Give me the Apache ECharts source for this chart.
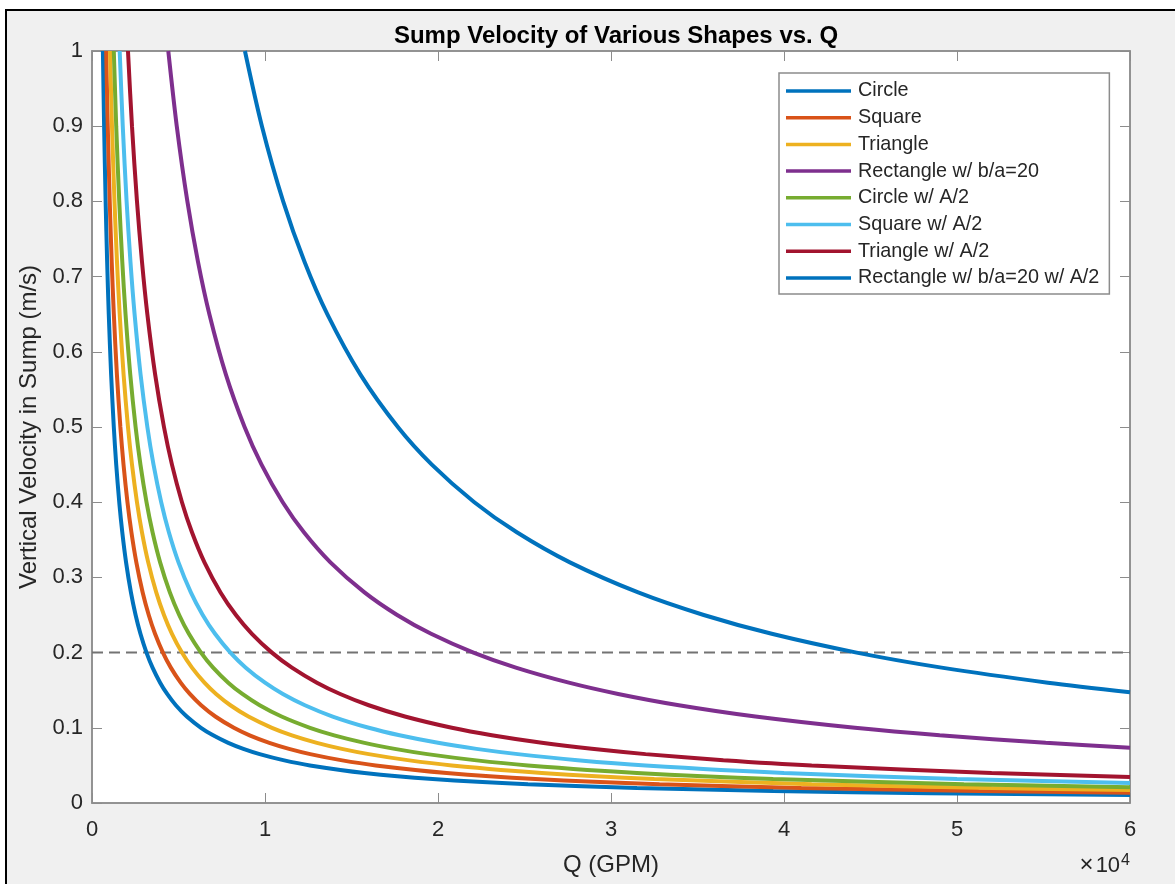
<!DOCTYPE html>
<html>
<head>
<meta charset="utf-8">
<title>Sump Velocity of Various Shapes vs. Q</title>
<script src="https://cdn.jsdelivr.net/npm/echarts@6.0.0/dist/echarts.min.js"></script>
<style>
  html, body { margin: 0; padding: 0; background: #fff; }
  .frame {
    position: absolute;
    left: 5px; top: 9px; right: 0; bottom: 0;
    border-left: 2px solid #000;
    border-top: 2px solid #000;
    background: #f0f0f0;
  }
  #chart { position: absolute; left: 0; top: 0; width: 1175px; height: 884px; }
</style>
</head>
<body>
<div class="frame"></div>
<div id="chart"></div>
<script>
// values: [Q (GPM), vertical velocity (m/s)]
const circle = [[630, 1], [700, 0.9], [788, 0.8], [875, 0.72], [969, 0.65], [1105, 0.57], [1260, 0.5], [1400, 0.45], [1575, 0.4], [1750, 0.36], [1969, 0.32], [2250, 0.28], [2520, 0.25], [2800, 0.225], [3150, 0.2], [3500, 0.18], [3938, 0.16], [4345, 0.145], [4846, 0.13], [5478, 0.115], [6300, 0.1], [7000, 0.09], [7875, 0.08], [8750, 0.072], [9692, 0.065], [11053, 0.057], [12600, 0.05], [15750, 0.04], [19688, 0.032], [25200, 0.025], [31500, 0.02], [39375, 0.016], [48462, 0.013], [60000, 0.0105]]
const square = [[820, 1], [911, 0.9], [1025, 0.8], [1139, 0.72], [1262, 0.65], [1439, 0.57], [1640, 0.5], [1822, 0.45], [2050, 0.4], [2278, 0.36], [2563, 0.32], [2929, 0.28], [3280, 0.25], [3644, 0.225], [4100, 0.2], [4556, 0.18], [5125, 0.16], [5655, 0.145], [6308, 0.13], [7130, 0.115], [8200, 0.1], [9111, 0.09], [10250, 0.08], [11389, 0.072], [12615, 0.065], [14386, 0.057], [16400, 0.05], [20500, 0.04], [25625, 0.032], [32800, 0.025], [41000, 0.02], [51250, 0.016], [60000, 0.0137]]
const triangle = [[1040, 1], [1156, 0.9], [1300, 0.8], [1444, 0.72], [1600, 0.65], [1825, 0.57], [2080, 0.5], [2311, 0.45], [2600, 0.4], [2889, 0.36], [3250, 0.32], [3714, 0.28], [4160, 0.25], [4622, 0.225], [5200, 0.2], [5778, 0.18], [6500, 0.16], [7172, 0.145], [8000, 0.13], [9043, 0.115], [10400, 0.1], [11556, 0.09], [13000, 0.08], [14444, 0.072], [16000, 0.065], [18246, 0.057], [20800, 0.05], [26000, 0.04], [32500, 0.032], [41600, 0.025], [52000, 0.02], [60000, 0.0173]]
const rectangle = [[4410, 1], [4900, 0.9], [5513, 0.8], [6125, 0.72], [6785, 0.65], [7737, 0.57], [8820, 0.5], [9800, 0.45], [11025, 0.4], [12250, 0.36], [13781, 0.32], [15750, 0.28], [17640, 0.25], [19600, 0.225], [22050, 0.2], [24500, 0.18], [27563, 0.16], [30414, 0.145], [33923, 0.13], [38348, 0.115], [44100, 0.1], [49000, 0.09], [55125, 0.08], [60000, 0.0735]]
const circleHalf = [[1260, 1], [1400, 0.9], [1575, 0.8], [1750, 0.72], [1938, 0.65], [2211, 0.57], [2520, 0.5], [2800, 0.45], [3150, 0.4], [3500, 0.36], [3938, 0.32], [4500, 0.28], [5040, 0.25], [5600, 0.225], [6300, 0.2], [7000, 0.18], [7875, 0.16], [8690, 0.145], [9692, 0.13], [10957, 0.115], [12600, 0.1], [14000, 0.09], [15750, 0.08], [17500, 0.072], [19385, 0.065], [22105, 0.057], [25200, 0.05], [31500, 0.04], [39375, 0.032], [50400, 0.025], [60000, 0.021]]
const squareHalf = [[1600, 1], [1778, 0.9], [2000, 0.8], [2222, 0.72], [2462, 0.65], [2807, 0.57], [3200, 0.5], [3556, 0.45], [4000, 0.4], [4444, 0.36], [5000, 0.32], [5714, 0.28], [6400, 0.25], [7111, 0.225], [8000, 0.2], [8889, 0.18], [10000, 0.16], [11034, 0.145], [12308, 0.13], [13913, 0.115], [16000, 0.1], [17778, 0.09], [20000, 0.08], [22222, 0.072], [24615, 0.065], [28070, 0.057], [32000, 0.05], [40000, 0.04], [50000, 0.032], [60000, 0.0267]]
const triangleHalf = [[2080, 1], [2311, 0.9], [2600, 0.8], [2889, 0.72], [3200, 0.65], [3649, 0.57], [4160, 0.5], [4622, 0.45], [5200, 0.4], [5778, 0.36], [6500, 0.32], [7429, 0.28], [8320, 0.25], [9244, 0.225], [10400, 0.2], [11556, 0.18], [13000, 0.16], [14345, 0.145], [16000, 0.13], [18087, 0.115], [20800, 0.1], [23111, 0.09], [26000, 0.08], [28889, 0.072], [32000, 0.065], [36491, 0.057], [41600, 0.05], [52000, 0.04], [60000, 0.0347]]
const rectangleHalf = [[8840, 1], [9822, 0.9], [11050, 0.8], [12278, 0.72], [13600, 0.65], [15509, 0.57], [17680, 0.5], [19644, 0.45], [22100, 0.4], [24556, 0.36], [27625, 0.32], [31571, 0.28], [35360, 0.25], [39289, 0.225], [44200, 0.2], [49111, 0.18], [55250, 0.16], [60000, 0.1473]]

const seriesNames = ['Circle', 'Square', 'Triangle', 'Rectangle w/ b/a=20', 'Circle w/ A/2', 'Square w/ A/2', 'Triangle w/ A/2', 'Rectangle w/ b/a=20 w/ A/2']
const seriesData = [circle, square, triangle, rectangle, circleHalf, squareHalf, triangleHalf, rectangleHalf]
const colors = ['#0072BD', '#D95319', '#EDB120', '#7E2F8E', '#77AC30', '#4DBEEE', '#A2142F', '#0072BD']
const limitVelocity = 0.2
const xTicks = [0, 10000, 20000, 30000, 40000, 50000, 60000]

const font = 'Liberation Sans, Arial, Helvetica, sans-serif'
const axisGray = '#8c8c8c'
const textGray = '#262626'

const chart = echarts.init(document.getElementById('chart'))

const tickStyle = { show: true, inside: true, length: 10, lineStyle: { color: axisGray, width: 1 } }
const lineStyleAxis = { show: true, onZero: false, lineStyle: { color: axisGray, width: 1.5 } }

const option = {
  animation: false,
  backgroundColor: 'transparent',
  color: colors,
  title: {
    text: 'Sump Velocity of Various Shapes vs. Q',
    left: 611,
    top: 19,
    textAlign: 'center',
    textStyle: { fontFamily: font, fontSize: 24, fontWeight: 'bold', color: '#000' }
  },
  grid: {
    left: 92,
    top: 51,
    right: 45,
    bottom: 81,
    show: true,
    backgroundColor: '#fff',
    borderColor: axisGray,
    borderWidth: 1.5
  },
  legend: {
    orient: 'vertical',
    left: 779,
    top: 73,
    padding: [8, 10, 6, 7],
    itemGap: 6.7,
    itemWidth: 65,
    itemHeight: 3.5,
    icon: 'rect',
    backgroundColor: '#fff',
    borderColor: axisGray,
    borderWidth: 1.5,
    borderRadius: 0,
    data: seriesNames,
    textStyle: { fontFamily: font, fontSize: 19.8, color: textGray, padding: [0, 0, 0, 2] }
  },
  xAxis: [
    {
      type: 'value',
      position: 'bottom',
      min: 0,
      max: 60000,
      interval: 10000,
      name: 'Q (GPM)',
      nameLocation: 'middle',
      nameGap: 50,
      nameTextStyle: { fontFamily: font, fontSize: 24, color: textGray },
      axisLine: lineStyleAxis,
      axisTick: tickStyle,
      splitLine: { show: false },
      axisLabel: {
        margin: 16,
        fontFamily: font,
        fontSize: 22,
        color: textGray,
        formatter: v => String(v / 10000)
      }
    },
    {
      type: 'value',
      position: 'top',
      min: 0,
      max: 60000,
      interval: 10000,
      axisLine: lineStyleAxis,
      axisTick: tickStyle,
      splitLine: { show: false },
      axisLabel: { show: false }
    }
  ],
  yAxis: [
    {
      type: 'value',
      position: 'left',
      min: 0,
      max: 1,
      interval: 0.1,
      name: 'Vertical Velocity in Sump (m/s)',
      nameLocation: 'middle',
      nameGap: 44,
      nameTextStyle: { fontFamily: font, fontSize: 24, color: textGray },
      axisLine: lineStyleAxis,
      axisTick: tickStyle,
      splitLine: { show: false },
      axisLabel: {
        margin: 9,
        fontFamily: font,
        fontSize: 22,
        color: textGray,
        formatter: v => String(Math.round(v * 10) / 10)
      }
    },
    {
      type: 'value',
      position: 'right',
      min: 0,
      max: 1,
      interval: 0.1,
      axisLine: lineStyleAxis,
      axisTick: tickStyle,
      splitLine: { show: false },
      axisLabel: { show: false }
    }
  ],
  graphic: [
    {
      type: 'text',
      right: 45,
      top: 853,
      style: {
        text: '{x|×}{n|10}{e|4}',
        fill: textGray,
        rich: {
          x: { fontFamily: font, fontSize: 24, fill: textGray, verticalAlign: 'bottom', lineHeight: 24, padding: [0, 2, 0, 0] },
          n: { fontFamily: font, fontSize: 22, fill: textGray, verticalAlign: 'bottom', lineHeight: 24 },
          e: { fontFamily: font, fontSize: 16, fill: textGray, verticalAlign: 'top', lineHeight: 24, padding: [0, 0, 8, 1] }
        }
      }
    }
  ],
  series: seriesData.map((data, i) => ({
    name: seriesNames[i],
    type: 'line',
    data: data,
    smooth: 0.3,
    showSymbol: false,
    clip: true,
    lineStyle: { width: 4, color: colors[i] },
    itemStyle: { color: colors[i] }
  })).concat([
    {
      name: 'limit',
      type: 'line',
      data: [[xTicks[0], limitVelocity], [xTicks[xTicks.length - 1], limitVelocity]],
      showSymbol: false,
      silent: true,
      lineStyle: { width: 2, color: '#737373', type: [11, 6] },
      z: 1
    }
  ])
}

chart.setOption(option)
</script>
</body>
</html>
